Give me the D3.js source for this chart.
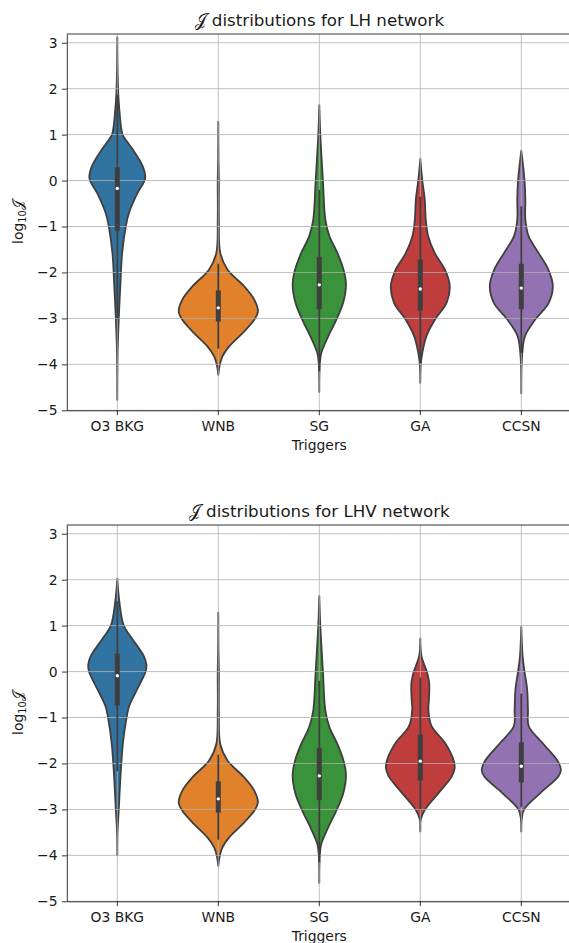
<!DOCTYPE html>
<html>
<head>
<meta charset="utf-8">
<script src="https://cdn.jsdelivr.net/npm/d3@7"></script>
<style>
  body { margin: 0; background: #fff; }
  text { font-family: "DejaVu Sans", sans-serif; }
</style>
</head>
<body>
<svg id="chart" width="569" height="943"></svg>
<script>
// Categories and axis ticks
const categories = ['O3 BKG', 'WNB', 'SG', 'GA', 'CCSN'];
const yTicks = [-5, -4, -3, -2, -1, 0, 1, 2, 3];
const violinColors = ['#3274a1', '#e1812c', '#3a923a', '#c03d3e', '#9372b2'];

// Density profiles: [log10 J, relative density]
const lhO3 = [[3.12,0],[2.5,0.005],[1.87,0.025],[1.55,0.05],[1.0,0.13],[0.85,0.24],[0.68,0.38],[0.31,0.63],[0.05,0.69],[-0.27,0.5],[-0.7,0.29],[-1.0,0.21],[-1.58,0.12],[-2.3,0.075],[-3.03,0.035],[-3.75,0.008],[-4.77,0]];
const lhWnb = [[1.28,0],[0.5,0.004],[0.0,0.014],[-0.85,0.014],[-1.58,0.05],[-1.94,0.23],[-2.3,0.64],[-2.59,0.89],[-2.85,0.98],[-3.03,0.89],[-3.32,0.6],[-3.61,0.27],[-3.83,0.1],[-4.04,0.03],[-4.23,0]];
const lhSg = [[1.64,0],[1.0,0.025],[0.0,0.09],[-0.85,0.15],[-1.21,0.25],[-1.58,0.45],[-1.94,0.6],[-2.25,0.66],[-2.66,0.59],[-3.03,0.42],[-3.39,0.22],[-3.75,0.05],[-4.0,0.012],[-4.6,0]];
const lhGa = [[0.47,0],[0.0,0.05],[-0.41,0.11],[-0.85,0.135],[-1.21,0.195],[-1.58,0.36],[-1.94,0.61],[-2.3,0.73],[-2.66,0.65],[-3.03,0.36],[-3.39,0.15],[-3.75,0.05],[-4.0,0.012],[-4.4,0]];
const lhCcsn = [[0.65,0],[0.0,0.08],[-0.41,0.1],[-0.85,0.1],[-1.21,0.18],[-1.58,0.43],[-1.94,0.67],[-2.3,0.78],[-2.66,0.68],[-3.03,0.34],[-3.39,0.09],[-3.75,0.025],[-4.1,0.004],[-4.63,0]];

const lhvO3 = [[2.02,0],[1.53,0.05],[1.0,0.16],[0.7,0.38],[0.33,0.66],[0.15,0.72],[0.0,0.7],[-0.39,0.49],[-0.76,0.29],[-1.0,0.23],[-1.55,0.14],[-1.99,0.1],[-2.64,0.057],[-3.0,0.037],[-3.5,0.006],[-4.0,0]];
const lhvGa = [[0.72,0],[0.33,0.03],[0.0,0.16],[-0.25,0.22],[-0.6,0.215],[-0.83,0.2],[-1.19,0.28],[-1.55,0.61],[-1.92,0.82],[-2.1,0.85],[-2.28,0.78],[-2.64,0.455],[-3.0,0.12],[-3.22,0.012],[-3.48,0]];
const lhvCcsn = [[0.97,0],[0.33,0.033],[0.0,0.08],[-0.39,0.145],[-0.83,0.165],[-1.19,0.185],[-1.55,0.52],[-1.92,0.88],[-2.13,0.98],[-2.28,0.92],[-2.64,0.475],[-3.0,0.07],[-3.2,0.012],[-3.48,0]];

// Inner box: [lower whisker, q1, median, q3, upper whisker]
const lhBoxes = [[-3.0,-1.1,-0.17,0.29,1.87],[-3.66,-3.07,-2.77,-2.39,-1.81],[-4.15,-2.8,-2.27,-1.66,-0.2],[-3.97,-2.83,-2.36,-1.72,-0.35],[-3.75,-2.8,-2.34,-1.81,-0.56]];
const lhvBoxes = [[-2.17,-0.74,-0.09,0.39,1.53],[-3.66,-3.07,-2.77,-2.39,-1.81],[-4.15,-2.8,-2.27,-1.66,-0.2],[-3.0,-2.37,-1.95,-1.37,-0.13],[-2.95,-2.41,-2.06,-1.54,-0.48]];

let svg = d3.select('#chart');

let axLeft = 66.8;
let axRight = 571.8;
let axHeight = 376.3;

drawPanel(34, 'LH', [lhO3, lhWnb, lhSg, lhGa, lhCcsn], lhBoxes);
drawPanel(525, 'LHV', [lhvO3, lhWnb, lhSg, lhvGa, lhvCcsn], lhvBoxes);

function drawPanel(top, network, profiles, boxes)
{
    let g = svg.append('g');
    let bottom = top + axHeight;

    let x = d3.scaleBand()
        .domain(categories)
        .range([axLeft, axRight])
        .padding(0);

    let y = d3.scaleLinear()
        .domain([-5, 3.19])
        .range([bottom, top]);

    // half width of a violin
    let w = d3.scaleLinear()
        .domain([0, 1])
        .range([0, x.bandwidth() * 0.4]);

    let center = c => x(c) + x.bandwidth() / 2;

    // Violins
    categories.forEach(function(c, i) {
        let area = d3.area()
            .y(d => y(d[0]))
            .x0(d => center(c) - w(d[1]))
            .x1(d => center(c) + w(d[1]))
            .curve(d3.curveCatmullRom.alpha(0.5));

        g.append('path')
            .datum(profiles[i])
            .attr('d', area)
            .attr('fill', violinColors[i])
            .attr('stroke', '#3f3f3f')
            .attr('stroke-width', 1.8)
            .attr('stroke-linejoin', 'round');
    });

    // Grid (drawn above the violin bodies like matplotlib)
    g.append('g')
        .selectAll('line')
        .data(yTicks)
        .enter()
        .append('line')
        .attr('x1', axLeft).attr('x2', axRight)
        .attr('y1', d => y(d)).attr('y2', d => y(d))
        .attr('stroke', '#b0b0b0')
        .attr('stroke-width', 0.8);

    g.append('g')
        .selectAll('line')
        .data(categories)
        .enter()
        .append('line')
        .attr('x1', d => center(d)).attr('x2', d => center(d))
        .attr('y1', top).attr('y2', bottom)
        .attr('stroke', '#b0b0b0')
        .attr('stroke-width', 0.8);

    // Inner boxes
    categories.forEach(function(c, i) {
        let b = boxes[i];
        let cx = center(c);
        g.append('line')
            .attr('x1', cx).attr('x2', cx)
            .attr('y1', y(b[0])).attr('y2', y(b[4]))
            .attr('stroke', '#3f3f3f')
            .attr('stroke-width', 1.8);
        g.append('line')
            .attr('x1', cx).attr('x2', cx)
            .attr('y1', y(b[1])).attr('y2', y(b[3]))
            .attr('stroke', '#3f3f3f')
            .attr('stroke-width', 5);
        g.append('circle')
            .attr('cx', cx)
            .attr('cy', y(b[2]))
            .attr('r', 1.7)
            .attr('fill', '#fff');
    });

    // Axes
    let yAxis = g.append('g')
        .attr('transform', 'translate(' + axLeft + ',0)')
        .call(d3.axisLeft(y).tickValues(yTicks).tickSize(4.9).tickPadding(4.4).tickSizeOuter(0).tickFormat(d3.format('d')));

    let xAxis = g.append('g')
        .attr('transform', 'translate(0,' + bottom + ')')
        .call(d3.axisBottom(x).tickSize(4.9).tickPadding(5).tickSizeOuter(0));

    [yAxis, xAxis].forEach(function(a) {
        a.selectAll('path').attr('stroke', '#000').attr('stroke-width', 0.8);
        a.selectAll('line').attr('stroke', '#000').attr('stroke-width', 0.8);
        a.selectAll('text')
            .attr('font-family', '"DejaVu Sans", sans-serif')
            .attr('font-size', '13.9px')
            .attr('fill', '#1a1a1a');
    });
    xAxis.selectAll('text').attr('dy', '0.78em');

    // Top and right spines
    g.append('line')
        .attr('x1', axLeft).attr('x2', axRight)
        .attr('y1', top).attr('y2', top)
        .attr('stroke', '#000').attr('stroke-width', 0.8);
    g.append('line')
        .attr('x1', axRight).attr('x2', axRight)
        .attr('y1', top).attr('y2', bottom)
        .attr('stroke', '#000').attr('stroke-width', 0.8);

    // Title
    let title = g.append('text')
        .attr('x', (axLeft + axRight) / 2)
        .attr('y', top - 8.3)
        .attr('text-anchor', 'middle')
        .attr('font-size', '16.7px')
        .attr('fill', '#1a1a1a');
    title.append('tspan').text('𝒥');
    title.append('tspan').text(' distributions for ' + network + ' network');

    // X label
    g.append('text')
        .attr('x', (axLeft + axRight) / 2)
        .attr('y', bottom + 39.5)
        .attr('text-anchor', 'middle')
        .attr('font-size', '13.9px')
        .attr('fill', '#1a1a1a')
        .text('Triggers');

    // Y label
    let ylab = g.append('text')
        .attr('transform', 'translate(23,' + (top + axHeight / 2) + ') rotate(-90)')
        .attr('text-anchor', 'middle')
        .attr('font-size', '13.9px')
        .attr('fill', '#1a1a1a');
    ylab.append('tspan').text('log');
    ylab.append('tspan').attr('font-size', '9.7px').attr('dy', '3').text('10');
    ylab.append('tspan').attr('dy', '-3').text('𝒥');
}
</script>
</body>
</html>
